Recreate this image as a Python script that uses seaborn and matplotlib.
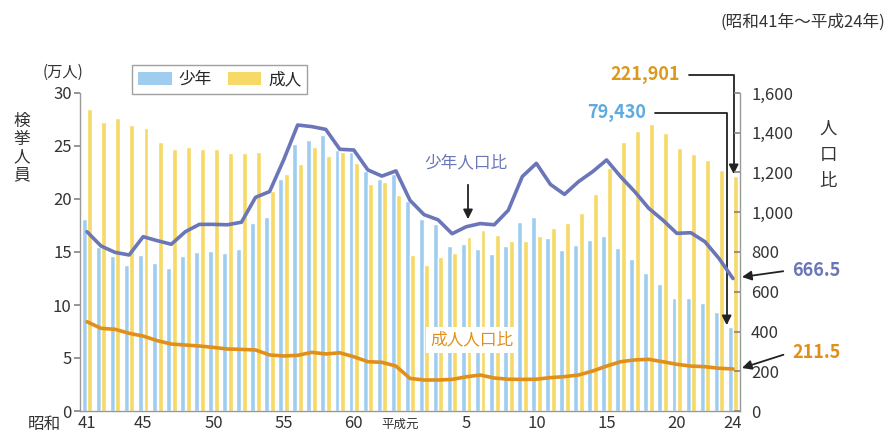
import numpy as np
import pandas as pd
import seaborn as sns
import matplotlib.pyplot as plt
from matplotlib.patches import Patch
from matplotlib.ticker import FuncFormatter
from matplotlib.transforms import blended_transform_factory

# 昭和41年～平成24年
years = [f"S{y}" for y in range(41, 64)] + [f"H{y}" for y in range(1, 25)]

# 検挙人員（万人）
youth = [18.1, 15.5, 14.6, 13.8, 14.7, 14.0, 13.5, 14.6, 15.0, 15.1, 14.9, 15.3,
         17.7, 18.3, 21.9, 25.2, 25.6, 26.0, 24.6, 24.4, 22.6, 21.9, 22.4,
         19.8, 18.1, 17.6, 15.6, 15.8, 15.3, 14.8, 15.6, 17.8, 18.3, 16.3, 15.2,
         15.7, 16.1, 16.5, 15.4, 14.3, 13.0, 12.0, 10.7, 10.7, 10.2, 9.3, 7.943]
adult = [28.5, 27.3, 27.6, 27.0, 26.7, 25.4, 24.7, 24.9, 24.7, 24.7, 24.3, 24.3,
         24.4, 20.8, 22.4, 23.3, 24.9, 24.1, 24.4, 23.4, 21.4, 21.6, 20.4,
         14.7, 13.8, 14.5, 14.9, 16.4, 17.1, 16.6, 16.0, 16.0, 16.5, 17.3, 17.7,
         18.7, 20.5, 22.9, 25.4, 26.4, 27.1, 26.2, 24.8, 24.2, 23.7, 22.7, 22.19]

# 人口比
youth_ratio = [902, 830, 798, 785, 877, 857, 839, 902, 939, 939, 937, 950,
               1075, 1104, 1263, 1439, 1431, 1417, 1317, 1313, 1213, 1182, 1208,
               1060, 988, 962, 892, 927, 943, 937, 1010, 1180, 1246, 1140, 1090,
               1154, 1204, 1263, 1179, 1104, 1020, 961, 894, 897, 852, 768, 666.5]
adult_ratio = [449, 416, 411, 391, 377, 354, 337, 332, 327, 320, 312, 310,
               307, 282, 277, 280, 295, 287, 293, 273, 248, 245, 226,
               164, 156, 156, 159, 172, 181, 166, 160, 159, 160, 168, 173,
               181, 201, 226, 248, 257, 260, 248, 235, 226, 223, 215, 211.5]

tick_pos = [0, 4, 9, 14, 19, 23, 27, 32, 37, 42, 46]
tick_labels = ["41", "45", "50", "55", "60", "", "5", "10", "15", "20", "24"]

BLUE = "#9fcdef"
YELLOW = "#f6d967"
PURPLE = "#6a76b8"
ORANGE = "#e0901a"
GOLD = "#d99a1e"
SKY = "#5eabe2"
TXT = "#333333"

sns.set_theme(style="white")
plt.rcParams["font.family"] = ["Noto Sans CJK JP", "DejaVu Sans"]

W, H = 890, 434
fig = plt.figure(figsize=(W / 100, H / 100), dpi=100)
ax = fig.add_axes([80 / W, (H - 411) / H, 660 / W, 318 / H])


def fpos(x, y):
    return (x / W, 1 - y / H)


df = pd.DataFrame({
    "year": years * 2,
    "value": youth + adult,
    "kind": ["少年"] * len(years) + ["成人"] * len(years),
})
sns.barplot(data=df, x="year", y="value", hue="kind", order=years,
            hue_order=["少年", "成人"], palette=[BLUE, YELLOW], saturation=1,
            width=0.8, gap=0.12, legend=False, ax=ax)

ax2 = ax.twinx()
xs = np.arange(len(years))
sns.lineplot(x=xs, y=youth_ratio, ax=ax2, color=PURPLE, lw=2.6)
sns.lineplot(x=xs, y=adult_ratio, ax=ax2, color=ORANGE, lw=2.6)

ax.set_xlim(-0.5, len(years) - 0.5)
ax.set_ylim(0, 30)
ax2.set_ylim(0, 1600)
ax.set_yticks(range(0, 31, 5))
ax2.set_yticks(range(0, 1601, 200))
ax2.yaxis.set_major_formatter(FuncFormatter(lambda v, p: f"{int(v):,}"))
ax.set_xticks(tick_pos, tick_labels)
ax.set_xlabel("")
ax.set_ylabel("")
ax2.set_ylabel("")

ax.tick_params(axis="y", length=4, color="#888888", labelsize=12, labelcolor=TXT, pad=2, left=True)
ax.tick_params(axis="x", length=0, labelsize=12, labelcolor=TXT, pad=3)
ax2.tick_params(axis="y", direction="in", length=4, color="#888888", labelsize=12,
                labelcolor=TXT, pad=8, right=True)

for s in ["top", "right"]:
    ax.spines[s].set_visible(False)
for s in ["top", "left", "bottom"]:
    ax2.spines[s].set_visible(False)
for sp in [ax.spines["left"], ax.spines["bottom"], ax2.spines["right"]]:
    sp.set_color("#999999")
    sp.set_linewidth(1)

# 軸まわりの文字
trans = blended_transform_factory(ax.transData, ax.transAxes)
ax.text(22.3, -0.042, "平成元", transform=trans, ha="center", va="center", fontsize=9, color=TXT)
fig.text(*fpos(61, 425), "昭和", ha="right", va="center", fontsize=12, color=TXT)
fig.text(*fpos(63, 72), "(万人)", ha="center", va="center", fontsize=11, color=TXT)
fig.text(*fpos(22, 148), "検\n挙\n人\n員", ha="center", va="center", fontsize=12,
         color=TXT, linespacing=1.05)
fig.text(*fpos(828, 155), "人\n口\n比", ha="center", va="center", fontsize=12.5,
         color=TXT, linespacing=1.6)
fig.text(*fpos(885, 22), "(昭和41年～平成24年)", ha="right", va="center", fontsize=12, color=TXT)

handles = [Patch(facecolor=BLUE, edgecolor="none"), Patch(facecolor=YELLOW, edgecolor="none")]
fig.legend(handles, ["少年", "成人"], loc="upper left", bbox_to_anchor=fpos(124, 57),
           ncol=2, fontsize=12, frameon=True, fancybox=False, edgecolor="#888888",
           handlelength=2.0, handleheight=0.9, columnspacing=1.0, borderpad=0.35,
           handletextpad=0.4)

# 注記
fig.text(*fpos(466, 163), "少年人口比", ha="center", va="center", fontsize=12, color=PURPLE)
ax.annotate("", xy=fpos(468, 222), xycoords="figure fraction",
            xytext=fpos(468, 182), textcoords="figure fraction",
            arrowprops=dict(arrowstyle="-|>", color="#222222", lw=1.3, mutation_scale=14))
fig.text(*fpos(472, 340), "成人人口比", ha="center", va="center", fontsize=12, color=ORANGE,
         bbox=dict(facecolor="white", edgecolor="none", pad=3))

elbow = dict(arrowstyle="-|>", color="#222222", lw=1.3, mutation_scale=14,
             connectionstyle="angle,angleA=0,angleB=90,rad=0", relpos=(1, 0.5),
             shrinkA=4, shrinkB=0)
ax.annotate("221,901", xy=(46.05, adult[-1] + 0.15), xycoords="data",
            xytext=fpos(680, 75), textcoords="figure fraction", ha="right", va="center",
            fontsize=13, fontweight="bold", color=GOLD, arrowprops=elbow)
ax.annotate("79,430", xy=(45.55, youth[-1] + 0.15), xycoords="data",
            xytext=fpos(646, 113), textcoords="figure fraction", ha="right", va="center",
            fontsize=13, fontweight="bold", color=SKY, arrowprops=elbow)

side = dict(arrowstyle="-|>", color="#222222", lw=1.3, mutation_scale=14,
            relpos=(0, 0.5), shrinkA=4, shrinkB=0)
ax2.annotate("666.5", xy=fpos(742, 277), xycoords="figure fraction",
             xytext=fpos(792, 270), textcoords="figure fraction", ha="left", va="center",
             fontsize=13, fontweight="bold", color=PURPLE, arrowprops=side)
ax2.annotate("211.5", xy=fpos(742, 368), xycoords="figure fraction",
             xytext=fpos(792, 352), textcoords="figure fraction", ha="left", va="center",
             fontsize=13, fontweight="bold", color=ORANGE, arrowprops=side)

fig.savefig("out.png", dpi=100)
